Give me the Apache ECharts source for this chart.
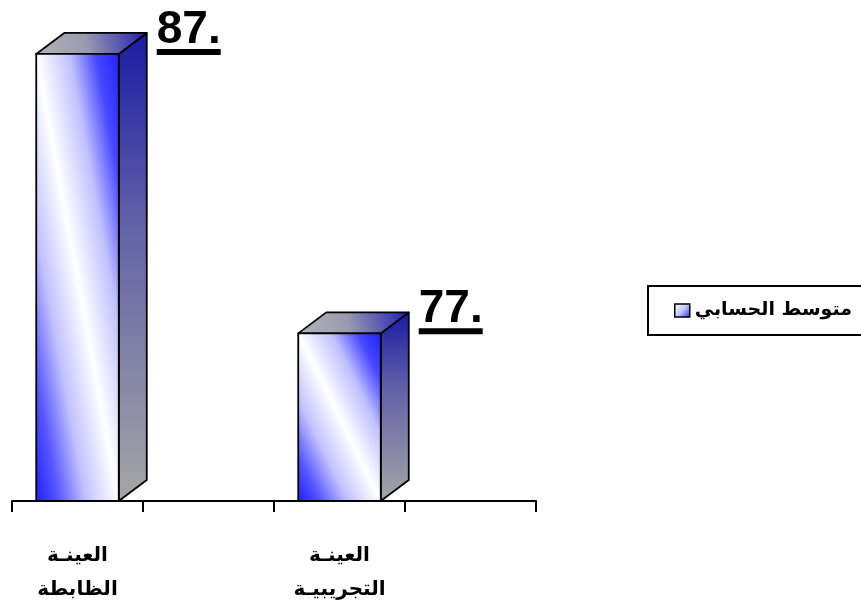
<!DOCTYPE html>
<html><head><meta charset="utf-8">
<script src="https://cdn.jsdelivr.net/npm/echarts@6/dist/echarts.min.js"></script>
<style>html,body{margin:0;padding:0;background:#fff}#c{width:861px;height:600px}</style>
</head><body><div id="c"></div>
<script>
// ---- data ----
const categories = ['العينـة\nالظابطة', '', 'العينـة\nالتجريبيـة', ''];
const values = [0.87, null, 0.77, null];
const valueLabels = ['87.', '', '77.', ''];
const seriesName = 'متوسط الحسابي';
const yMin = 0.71, yMax = 0.88;

// ---- styles ----
const DEPTH_X = 28, DEPTH_Y = 21, BAR_RATIO = 0.63;
const LABEL_FONT = 'bold 46px "Liberation Sans", Arial, sans-serif';
const measureCtx = document.createElement('canvas').getContext('2d');
measureCtx.font = LABEL_FONT;

function frontGrad(x0, y0, w, h) {
  const k = w * h / (w * w + h * h);
  const cx = x0 + w / 2, cy = y0 + h / 2;
  return {
    type: 'linear', global: true,
    x: cx - h * k, y: cy + w * k, x2: cx + h * k, y2: cy - w * k,
    colorStops: [
      { offset: 0, color: '#2020ff' },
      { offset: 0.14, color: '#5858ff' },
      { offset: 0.3, color: '#c0c0ff' },
      { offset: 0.5, color: '#ffffff' },
      { offset: 0.7, color: '#c0c0ff' },
      { offset: 0.86, color: '#4848ff' },
      { offset: 1, color: '#2020ff' }
    ]
  };
}
const sideGrad = {
  type: 'linear', x: 0, y: 0, x2: 0, y2: 1,
  colorStops: [
    { offset: 0, color: '#1a1aa4' },
    { offset: 0.4, color: '#6060a8' },
    { offset: 1, color: '#a6a6a6' }
  ]
};
const topGrad = {
  type: 'linear', x: 0, y: 1, x2: 1, y2: 0,
  colorStops: [
    { offset: 0, color: '#b4b4b4' },
    { offset: 0.45, color: '#9a9ab0' },
    { offset: 1, color: '#1c1cb0' }
  ]
};

const seriesData = values.map((v, i) => [i, v]).filter(d => d[1] != null);

function renderItem(params, api) {
  const idx = api.value(0), v = api.value(1);
  const top = api.coord([idx, v]);
  const base = api.coord([idx, yMin]);
  const slot = api.size([1, 0])[0];
  const w = slot * BAR_RATIO;
  const x0 = top[0] - w / 2, x1 = top[0] + w / 2, yt = top[1], yb = base[1];
  const lineStyle = { stroke: '#000', lineWidth: 1.8, lineJoin: 'round' };
  const label = valueLabels[idx];
  const tw = measureCtx.measureText(label).width;
  const lx = x1 + 38, ly = yt - 24;
  return {
    type: 'group',
    children: [
      { type: 'polygon', shape: { points: [[x1, yb], [x1 + DEPTH_X, yb - DEPTH_Y], [x1 + DEPTH_X, yt - DEPTH_Y], [x1, yt]] },
        style: Object.assign({ fill: sideGrad }, lineStyle) },
      { type: 'polygon', shape: { points: [[x0, yt], [x0 + DEPTH_X, yt - DEPTH_Y], [x1 + DEPTH_X, yt - DEPTH_Y], [x1, yt]] },
        style: Object.assign({ fill: topGrad }, lineStyle) },
      { type: 'rect', shape: { x: x0, y: yt, width: w, height: yb - yt },
        style: Object.assign({ fill: frontGrad(x0, yt, w, yb - yt) }, lineStyle) },
      { type: 'text', style: { text: label, x: lx, y: ly, font: LABEL_FONT, fill: '#000', align: 'left', verticalAlign: 'middle' } },
      { type: 'rect', shape: { x: lx, y: ly + 19, width: tw, height: 6 }, style: { fill: '#000' } }
    ]
  };
}

const chart = echarts.init(document.getElementById('c'), null, { renderer: 'canvas' });
chart.setOption({
  animation: false,
  backgroundColor: '#fff',
  grid: { left: 12, right: 325, top: 26, bottom: 99, containLabel: false, outerBoundsMode: 'none' },
  xAxis: {
    type: 'category', data: categories, boundaryGap: true,
    axisLine: { show: true, lineStyle: { color: '#000', width: 2 } },
    axisTick: { show: true, interval: 0, length: 11, lineStyle: { color: '#000', width: 2 } },
    axisLabel: { interval: 0, margin: 38, color: '#000', fontSize: 20, fontWeight: 'bold',
      fontFamily: '"DejaVu Sans", sans-serif', lineHeight: 34 }
  },
  yAxis: { type: 'value', min: yMin, max: yMax, show: false, splitLine: { show: false } },
  legend: {
    left: 648, top: 286, orient: 'horizontal',
    padding: [15, 40, 15, 26],
    borderColor: '#000', borderWidth: 2,
    itemWidth: 15, itemHeight: 13, itemGap: 10,
    textStyle: { color: '#000', fontSize: 19, fontWeight: 'bold', fontFamily: '"DejaVu Sans", sans-serif' },
    data: [{
      name: seriesName, icon: 'rect',
      itemStyle: {
        color: { type: 'linear', x: 0, y: 0, x2: 1, y2: 1,
          colorStops: [{ offset: 0, color: '#ffffff' }, { offset: 0.5, color: '#c8c8ff' }, { offset: 1, color: '#2020ff' }] },
        borderColor: '#000', borderWidth: 1.5
      }
    }]
  },
  series: [{
    type: 'custom', name: seriesName, renderItem: renderItem,
    itemStyle: { color: '#6060ff' },
    encode: { x: 0, y: 1 },
    data: seriesData
  }]
});
</script></body></html>
